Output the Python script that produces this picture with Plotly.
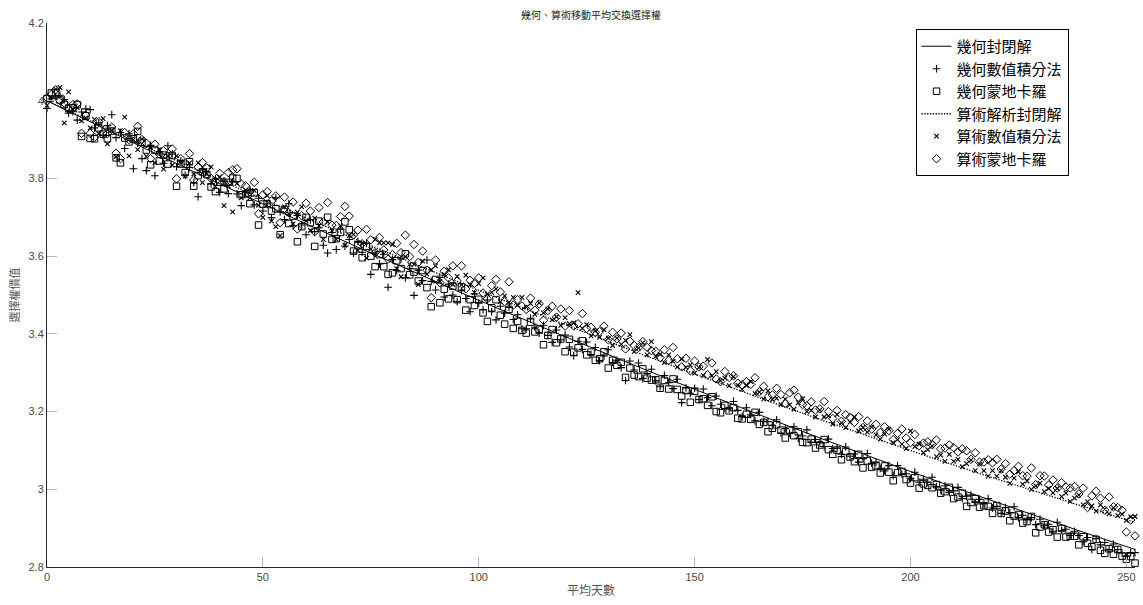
import plotly.graph_objects as go

# ---------------- data ----------------
days = list(range(253))

line_days = [0, 12, 24, 36, 48, 60, 72, 84, 96, 108, 120, 132, 144, 156, 168,
             180, 192, 204, 216, 228, 240, 252]
geo_closed = [4.000, 3.9345, 3.8701, 3.8067, 3.7444, 3.6831, 3.6229, 3.5637, 3.5055,
              3.4485, 3.3924, 3.3374, 3.2835, 3.2306, 3.1787, 3.1279, 3.0782, 3.0295,
              2.9818, 2.9352, 2.8897, 2.8452]
arith_closed = [4.000, 3.9374, 3.8760, 3.8156, 3.7563, 3.6981, 3.6410, 3.5850, 3.5300,
                3.4762, 3.4234, 3.3718, 3.3212, 3.2718, 3.2234, 3.1760, 3.1298, 3.0847,
                3.0406, 2.9977, 2.9558, 2.9150]

geo_mc = [
    4.005, 4.020, 4.021, 4.002, 3.990, 3.981, 3.982, 3.990, 3.908, 3.961,
    3.903, 3.902, 3.930, 3.914, 3.902, 3.922, 3.853, 3.840, 3.904, 3.894,
    3.902, 3.921, 3.893, 3.873, 3.835, 3.873, 3.845, 3.860, 3.837, 3.859,
    3.780, 3.837, 3.815, 3.843, 3.780, 3.807, 3.817, 3.810, 3.778, 3.766,
    3.790, 3.773, 3.790, 3.801, 3.800, 3.758, 3.760, 3.735, 3.763, 3.680,
    3.734, 3.735, 3.716, 3.722, 3.655, 3.720, 3.684, 3.703, 3.637, 3.676,
    3.700, 3.686, 3.625, 3.690, 3.657, 3.700, 3.643, 3.645, 3.661, 3.688,
    3.668, 3.613, 3.627, 3.596, 3.625, 3.600, 3.573, 3.604, 3.573, 3.553,
    3.557, 3.588, 3.568, 3.606, 3.552, 3.559, 3.536, 3.563, 3.519, 3.470,
    3.540, 3.480, 3.515, 3.490, 3.523, 3.488, 3.521, 3.461, 3.488, 3.473,
    3.489, 3.454, 3.432, 3.467, 3.488, 3.448, 3.425, 3.463, 3.414, 3.432,
    3.409, 3.402, 3.430, 3.405, 3.412, 3.372, 3.396, 3.411, 3.377, 3.387,
    3.354, 3.386, 3.353, 3.364, 3.382, 3.346, 3.353, 3.332, 3.336, 3.354,
    3.312, 3.332, 3.319, 3.327, 3.288, 3.312, 3.294, 3.290, 3.310, 3.286,
    3.281, 3.282, 3.260, 3.280, 3.258, 3.284, 3.257, 3.240, 3.254, 3.224,
    3.252, 3.231, 3.233, 3.216, 3.238, 3.200, 3.197, 3.216, 3.202, 3.210,
    3.183, 3.181, 3.193, 3.180, 3.198, 3.167, 3.172, 3.148, 3.157, 3.166,
    3.152, 3.132, 3.152, 3.138, 3.148, 3.121, 3.120, 3.129, 3.106, 3.114,
    3.128, 3.102, 3.090, 3.101, 3.076, 3.097, 3.083, 3.071, 3.090, 3.055,
    3.073, 3.057, 3.060, 3.042, 3.060, 3.044, 3.022, 3.043, 3.046, 3.025,
    3.016, 3.030, 3.003, 3.014, 3.010, 3.004, 3.012, 2.990, 2.994, 3.005,
    2.976, 2.980, 2.990, 2.956, 2.966, 2.976, 2.954, 2.958, 2.956, 2.938,
    2.958, 2.938, 2.944, 2.919, 2.931, 2.935, 2.913, 2.917, 2.930, 2.888,
    2.903, 2.909, 2.890, 2.896, 2.877, 2.899, 2.877, 2.879, 2.879, 2.857,
    2.878, 2.861, 2.852, 2.871, 2.843, 2.835, 2.847, 2.833, 2.845, 2.828,
    2.820, 2.827, 2.810]

geo_num = [
    3.980, 4.005, 4.009, 4.014, 4.003, 3.968, 3.972, 3.950, 3.971, 3.979,
    3.977, 3.930, 3.943, 3.911, 3.936, 3.964, 3.905, 3.918, 3.877, 3.915,
    3.825, 3.891, 3.851, 3.820, 3.885, 3.807, 3.869, 3.839, 3.884, 3.863,
    3.830, 3.845, 3.808, 3.828, 3.789, 3.753, 3.822, 3.817, 3.786, 3.799,
    3.764, 3.793, 3.761, 3.791, 3.760, 3.730, 3.763, 3.770, 3.732, 3.749,
    3.716, 3.734, 3.699, 3.750, 3.714, 3.694, 3.735, 3.678, 3.705, 3.680,
    3.655, 3.693, 3.663, 3.673, 3.628, 3.608, 3.661, 3.617, 3.670, 3.626,
    3.643, 3.608, 3.638, 3.610, 3.633, 3.553, 3.608, 3.580, 3.605, 3.520,
    3.591, 3.563, 3.593, 3.544, 3.569, 3.499, 3.564, 3.537, 3.590, 3.535,
    3.513, 3.545, 3.495, 3.528, 3.500, 3.483, 3.511, 3.491, 3.457, 3.503,
    3.479, 3.462, 3.487, 3.457, 3.436, 3.471, 3.453, 3.468, 3.437, 3.449,
    3.413, 3.413, 3.440, 3.417, 3.402, 3.422, 3.396, 3.378, 3.410, 3.385,
    3.397, 3.366, 3.344, 3.381, 3.360, 3.379, 3.347, 3.365, 3.331, 3.343,
    3.359, 3.327, 3.332, 3.313, 3.280, 3.330, 3.307, 3.325, 3.285, 3.298,
    3.309, 3.279, 3.264, 3.293, 3.274, 3.259, 3.283, 3.223, 3.261, 3.247,
    3.260, 3.231, 3.258, 3.236, 3.215, 3.240, 3.219, 3.208, 3.207, 3.226,
    3.203, 3.187, 3.210, 3.192, 3.176, 3.198, 3.175, 3.174, 3.164, 3.179,
    3.145, 3.156, 3.144, 3.161, 3.131, 3.137, 3.153, 3.121, 3.128, 3.120,
    3.110, 3.129, 3.105, 3.106, 3.090, 3.109, 3.085, 3.091, 3.070, 3.079,
    3.092, 3.067, 3.070, 3.054, 3.047, 3.061, 3.035, 3.061, 3.039, 3.040,
    3.028, 3.044, 3.018, 3.026, 3.018, 3.031, 3.007, 2.998, 3.009, 2.992,
    2.996, 3.005, 2.976, 2.982, 2.985, 2.966, 2.974, 2.963, 2.976, 2.952,
    2.956, 2.938, 2.953, 2.940, 2.955, 2.927, 2.933, 2.922, 2.927, 2.909,
    2.923, 2.906, 2.910, 2.892, 2.915, 2.894, 2.897, 2.881, 2.892, 2.881,
    2.865, 2.876, 2.845, 2.873, 2.857, 2.863, 2.845, 2.859, 2.845, 2.836,
    2.828, 2.837, 2.837]

arith_num = [
    3.988, 4.003, 4.029, 4.034, 3.943, 4.023, 3.977, 3.982, 3.948, 3.956,
    3.930, 3.952, 3.915, 3.954, 3.889, 3.924, 3.856, 3.923, 3.958, 3.858,
    3.900, 3.874, 3.901, 3.857, 3.880, 3.840, 3.874, 3.824, 3.857, 3.834,
    3.858, 3.843, 3.806, 3.840, 3.812, 3.840, 3.789, 3.812, 3.830, 3.779,
    3.804, 3.730, 3.781, 3.714, 3.787, 3.750, 3.770, 3.750, 3.769, 3.731,
    3.700, 3.756, 3.690, 3.676, 3.653, 3.727, 3.709, 3.683, 3.713, 3.727,
    3.691, 3.666, 3.698, 3.678, 3.643, 3.688, 3.665, 3.643, 3.678, 3.628,
    3.653, 3.656, 3.615, 3.633, 3.595, 3.618, 3.643, 3.634, 3.634, 3.634,
    3.630, 3.568, 3.547, 3.599, 3.579, 3.579, 3.527, 3.587, 3.554, 3.565,
    3.575, 3.535, 3.553, 3.565, 3.527, 3.548, 3.526, 3.551, 3.526, 3.506,
    3.529, 3.544, 3.502, 3.507, 3.516, 3.483, 3.498, 3.481, 3.494, 3.474,
    3.494, 3.469, 3.478, 3.450, 3.480, 3.454, 3.464, 3.436, 3.444, 3.422,
    3.442, 3.426, 3.428, 3.506, 3.414, 3.424, 3.395, 3.408, 3.391, 3.411,
    3.389, 3.370, 3.389, 3.373, 3.383, 3.398, 3.354, 3.363, 3.377, 3.346,
    3.380, 3.342, 3.347, 3.326, 3.346, 3.329, 3.315, 3.335, 3.314, 3.320,
    3.299, 3.313, 3.293, 3.334, 3.292, 3.303, 3.279, 3.286, 3.267, 3.290,
    3.268, 3.257, 3.267, 3.277, 3.246, 3.250, 3.232, 3.253, 3.231, 3.234,
    3.218, 3.232, 3.217, 3.206, 3.223, 3.233, 3.200, 3.203, 3.186, 3.204,
    3.186, 3.189, 3.168, 3.192, 3.171, 3.159, 3.173, 3.186, 3.150, 3.159,
    3.147, 3.160, 3.140, 3.129, 3.142, 3.155, 3.120, 3.128, 3.116, 3.105,
    3.150, 3.110, 3.116, 3.094, 3.102, 3.111, 3.084, 3.088, 3.072, 3.090,
    3.072, 3.077, 3.058, 3.066, 3.075, 3.048, 3.065, 3.048, 3.034, 3.048,
    3.034, 3.048, 3.031, 3.015, 3.029, 3.045, 3.013, 3.021, 3.000, 3.009,
    3.016, 2.994, 3.002, 2.991, 3.002, 2.981, 2.990, 2.969, 2.977, 2.985,
    2.960, 2.968, 2.957, 2.944, 2.960, 2.949, 2.937, 2.952, 2.932, 2.936,
    2.920, 2.929, 2.930]

arith_mc = [
    4.008, 4.016, 4.028, 4.000, 3.994, 3.978, 3.990, 3.992, 3.916, 3.963,
    3.916, 3.906, 3.946, 3.918, 3.915, 3.932, 3.865, 3.851, 3.918, 3.900,
    3.915, 3.934, 3.900, 3.891, 3.851, 3.888, 3.863, 3.871, 3.857, 3.876,
    3.799, 3.851, 3.838, 3.864, 3.796, 3.829, 3.841, 3.827, 3.800, 3.793,
    3.813, 3.791, 3.815, 3.822, 3.825, 3.786, 3.781, 3.765, 3.790, 3.709,
    3.758, 3.766, 3.742, 3.755, 3.686, 3.752, 3.712, 3.739, 3.670, 3.704,
    3.736, 3.716, 3.663, 3.725, 3.688, 3.738, 3.680, 3.679, 3.702, 3.728,
    3.703, 3.655, 3.667, 3.632, 3.669, 3.642, 3.609, 3.648, 3.616, 3.592,
    3.604, 3.633, 3.609, 3.654, 3.599, 3.630, 3.584, 3.613, 3.564, 3.493,
    3.590, 3.532, 3.561, 3.544, 3.575, 3.536, 3.575, 3.516, 3.538, 3.530,
    3.544, 3.505, 3.490, 3.524, 3.540, 3.508, 3.483, 3.534, 3.474, 3.488,
    3.472, 3.463, 3.492, 3.461, 3.477, 3.435, 3.460, 3.471, 3.443, 3.464,
    3.420, 3.460, 3.420, 3.426, 3.452, 3.414, 3.417, 3.404, 3.406, 3.420,
    3.385, 3.404, 3.387, 3.402, 3.361, 3.381, 3.370, 3.365, 3.380, 3.365,
    3.357, 3.355, 3.339, 3.359, 3.332, 3.365, 3.336, 3.315, 3.337, 3.305,
    3.330, 3.315, 3.317, 3.295, 3.325, 3.284, 3.277, 3.303, 3.288, 3.292,
    3.273, 3.269, 3.277, 3.270, 3.287, 3.251, 3.265, 3.238, 3.243, 3.260,
    3.244, 3.221, 3.248, 3.255, 3.237, 3.218, 3.215, 3.225, 3.204, 3.207,
    3.226, 3.200, 3.182, 3.203, 3.175, 3.192, 3.185, 3.172, 3.187, 3.159,
    3.176, 3.155, 3.167, 3.146, 3.161, 3.151, 3.128, 3.144, 3.155, 3.132,
    3.120, 3.141, 3.112, 3.119, 3.122, 3.115, 3.127, 3.104, 3.106, 3.114,
    3.107, 3.096, 3.104, 3.099, 3.077, 3.094, 3.070, 3.070, 3.076, 3.068,
    3.077, 3.052, 3.066, 3.039, 3.048, 3.059, 3.035, 3.034, 3.055, 3.012,
    3.035, 3.034, 3.011, 3.024, 3.003, 3.017, 3.006, 3.003, 3.007, 2.988,
    3.003, 2.953, 2.983, 2.995, 2.977, 2.946, 2.980, 2.955, 2.953, 2.946,
    2.890, 2.921, 2.880]

names = ["幾何封閉解", "幾何數值積分法", "幾何蒙地卡羅",
         "算術解析封閉解", "算術數值積分法", "算術蒙地卡羅"]
x_ticks = [0, 50, 100, 150, 200, 250]
y_ticks = [2.8, 3.0, 3.2, 3.4, 3.6, 3.8, 4.0, 4.2]
y_tick_text = ["2.8", "3", "3.2", "3.4", "3.6", "3.8", "4", "4.2"]

# ---------------- figure ----------------
BLACK = "#000000"
fig = go.Figure()

fig.add_trace(go.Scatter(x=line_days, y=geo_closed, mode="lines", name=names[0],
                         line=dict(color=BLACK, width=1)))
fig.add_trace(go.Scatter(x=days, y=geo_num, mode="markers", name=names[1], cliponaxis=False,
                         marker=dict(symbol="cross-thin-open", size=5.5, color=BLACK,
                                     line=dict(color=BLACK, width=1.1))))
fig.add_trace(go.Scatter(x=days, y=geo_mc, mode="markers", name=names[2], cliponaxis=False,
                         marker=dict(symbol="square-open", size=6.5, color=BLACK,
                                     line=dict(color=BLACK, width=1))))
fig.add_trace(go.Scatter(x=line_days, y=arith_closed, mode="lines", name=names[3],
                         line=dict(color=BLACK, width=1.3, dash="1.3px,1.5px")))
fig.add_trace(go.Scatter(x=days, y=arith_num, mode="markers", name=names[4], cliponaxis=False,
                         marker=dict(symbol="x-thin-open", size=4.5, color=BLACK,
                                     line=dict(color=BLACK, width=1.1))))
fig.add_trace(go.Scatter(x=days, y=arith_mc, mode="markers", name=names[5], cliponaxis=False,
                         marker=dict(symbol="diamond-open", size=6.5, color=BLACK,
                                     line=dict(color=BLACK, width=1))))

tick_font = dict(family="Liberation Sans, Arial, sans-serif", size=11, color="#4a4a4a")
fig.update_layout(
    width=1143, height=605,
    margin=dict(l=47, r=8, t=23, b=38),
    paper_bgcolor="white", plot_bgcolor="white",
    showlegend=True,
    title=dict(text="幾何、算術移動平均交換選擇權", x=0.517, xanchor="center",
               y=0.975, yanchor="middle",
               font=dict(family="Noto Sans CJK TC", size=10, color="#222222")),
    legend=dict(x=0.8686, xanchor="center", y=0.989, yanchor="top",
                bgcolor="white", bordercolor=BLACK, borderwidth=1,
                font=dict(family="Noto Sans CJK TC", size=15, color=BLACK),
                tracegroupgap=0, itemwidth=30),
)
fig.update_xaxes(range=[0, 252], tickvals=x_ticks, ticks="inside", ticklen=10,
                 tickcolor="#b8b8b8", tickfont=tick_font, showgrid=False, zeroline=False,
                 showline=True, linecolor="#262626", linewidth=1, mirror=False,
                 title=dict(text="平均天數", standoff=4,
                            font=dict(family="Noto Sans CJK TC", size=12, color="#555555")))
fig.update_yaxes(range=[2.8, 4.2], tickvals=y_ticks, ticktext=y_tick_text,
                 ticks="inside", ticklen=10,
                 tickcolor="#b8b8b8", tickfont=tick_font, showgrid=False, zeroline=False,
                 showline=True, linecolor="#262626", linewidth=1, mirror=False,
                 title=dict(text="選擇權價值", standoff=6,
                            font=dict(family="Noto Sans CJK TC", size=11, color="#555555")))

fig.write_html("out.html")
